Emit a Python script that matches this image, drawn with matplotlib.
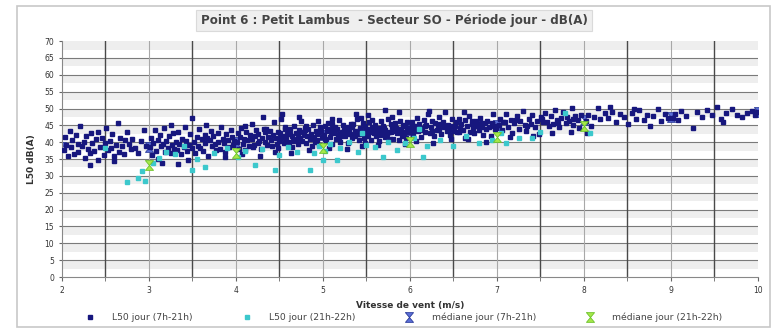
import numpy as np
import matplotlib
matplotlib.use("Agg")
from matplotlib import pyplot as plt
from matplotlib.path import Path
from matplotlib.patches import Rectangle

# L50 (dB(A)) vs wind speed (m/s), day period 7h-21h: (wind, level)
l50_day = [
    (2.02, 37.8), (2.04, 41.6), (2.05, 39.2), (2.07, 35.9), (2.09, 43.4), (2.11, 38.5), (2.12, 40.7), (2.14, 36.6),
    (2.16, 42.2), (2.18, 39.5), (2.19, 37.1), (2.21, 44.8), (2.23, 38.9), (2.25, 40.2), (2.26, 35.4), (2.28, 41.9),
    (2.30, 38.1), (2.32, 36.9), (2.33, 42.7), (2.35, 39.8), (2.37, 37.5), (2.39, 40.9), (2.41, 34.8), (2.42, 43.1),
    (2.44, 38.6), (2.46, 41.2), (2.48, 36.3), (2.50, 39.9), (2.51, 44.2), (2.53, 37.6), (2.55, 40.4), (2.57, 38.3),
    (2.58, 42.5), (2.60, 35.8), (2.62, 39.1), (2.64, 45.6), (2.66, 37.2), (2.67, 41.4), (2.69, 38.8), (2.71, 36.5),
    (2.73, 40.6), (2.75, 42.9), (2.77, 39.4), (2.79, 37.9), (2.81, 41.1), (2.84, 38.4), (2.88, 36.7), (2.91, 40.3),
    (2.94, 43.6), (2.97, 39.0), (2.32, 33.2), (2.60, 34.5),
    (3.01, 38.6), (3.02, 41.3), (3.04, 36.2), (3.05, 39.9), (3.07, 43.5), (3.08, 37.4), (3.10, 40.8), (3.11, 35.1),
    (3.13, 42.0), (3.14, 38.9), (3.16, 39.6), (3.17, 44.1), (3.19, 37.0), (3.20, 40.4), (3.22, 38.2), (3.23, 41.7),
    (3.25, 36.8), (3.26, 39.3), (3.28, 42.6), (3.29, 38.0), (3.31, 40.1), (3.32, 37.7), (3.34, 43.0), (3.35, 39.5),
    (3.37, 36.4), (3.38, 41.0), (3.40, 38.7), (3.41, 44.6), (3.43, 40.5), (3.44, 37.3), (3.46, 39.2), (3.47, 42.3),
    (3.49, 38.4), (3.50, 47.2), (3.52, 40.0), (3.53, 36.9), (3.55, 41.6), (3.56, 39.0), (3.58, 43.8), (3.59, 38.3),
    (3.61, 40.9), (3.62, 37.5), (3.64, 42.2), (3.65, 39.7), (3.67, 41.4), (3.68, 36.0), (3.70, 40.6), (3.71, 43.3),
    (3.73, 38.8), (3.74, 41.9), (3.76, 39.4), (3.77, 37.8), (3.79, 42.8), (3.80, 40.2), (3.82, 38.1), (3.83, 44.4),
    (3.85, 41.1), (3.86, 39.8), (3.88, 37.1), (3.89, 42.5), (3.91, 40.7), (3.92, 38.5), (3.94, 43.7), (3.95, 41.5),
    (3.97, 39.1), (3.98, 40.3), (3.15, 33.9), (3.45, 34.6), (3.66, 45.1), (3.87, 35.5), (3.33, 33.6), (3.25, 45.2),
    (4.01, 40.2), (4.02, 42.8), (4.04, 38.1), (4.05, 41.5), (4.06, 44.3), (4.08, 39.4), (4.09, 41.0), (4.11, 37.6),
    (4.12, 43.1), (4.13, 40.6), (4.15, 39.0), (4.16, 42.2), (4.18, 45.4), (4.19, 40.9), (4.20, 38.5), (4.22, 41.8),
    (4.23, 43.7), (4.25, 39.8), (4.26, 42.4), (4.27, 40.3), (4.29, 37.9), (4.30, 41.2), (4.32, 44.0), (4.33, 40.0),
    (4.34, 42.9), (4.36, 39.2), (4.37, 41.6), (4.39, 43.4), (4.40, 40.7), (4.41, 38.8), (4.43, 42.0), (4.44, 45.9),
    (4.46, 41.3), (4.47, 39.6), (4.48, 43.0), (4.50, 40.4), (4.51, 42.6), (4.53, 48.3), (4.54, 41.9), (4.55, 39.9),
    (4.57, 44.5), (4.58, 41.1), (4.60, 43.3), (4.61, 40.1), (4.62, 42.3), (4.64, 38.6), (4.65, 41.7), (4.67, 44.8),
    (4.68, 40.8), (4.69, 42.7), (4.71, 39.5), (4.72, 43.6), (4.74, 41.4), (4.75, 46.2), (4.76, 40.5), (4.78, 42.1),
    (4.79, 44.2), (4.81, 39.7), (4.82, 41.8), (4.83, 43.9), (4.85, 40.9), (4.86, 42.5), (4.88, 38.9), (4.89, 45.1),
    (4.90, 41.2), (4.92, 43.2), (4.93, 40.6), (4.95, 42.9), (4.96, 39.3), (4.97, 44.6), (4.99, 41.6), (4.07, 36.4),
    (4.28, 35.8), (4.45, 37.2), (4.52, 46.8), (4.63, 36.9), (4.73, 47.5), (4.84, 37.6), (4.94, 46.4), (4.31, 47.5),
    (4.10, 44.9), (4.21, 39.1), (4.35, 43.8), (4.49, 38.2), (4.59, 42.4), (4.70, 41.0), (4.80, 43.5), (4.91, 40.0),
    (4.52, 41.2), (4.56, 43.9), (4.66, 40.3), (4.77, 42.9), (4.87, 41.5), (4.98, 43.3), (4.62, 44.0), (4.71, 42.4),
    (4.81, 44.7), (4.93, 42.3),
    (5.01, 42.1), (5.02, 44.7), (5.04, 40.3), (5.05, 43.4), (5.06, 45.8), (5.08, 41.5), (5.09, 43.0), (5.11, 39.6),
    (5.12, 44.2), (5.13, 42.6), (5.15, 40.9), (5.16, 43.8), (5.18, 46.5), (5.19, 42.3), (5.20, 40.0), (5.22, 43.1),
    (5.23, 45.2), (5.25, 41.8), (5.26, 44.0), (5.27, 42.8), (5.29, 39.9), (5.30, 43.5), (5.32, 45.5), (5.33, 41.2),
    (5.34, 44.4), (5.36, 42.0), (5.37, 43.2), (5.39, 46.9), (5.40, 42.5), (5.41, 40.6), (5.43, 44.1), (5.44, 47.3),
    (5.46, 43.0), (5.47, 41.4), (5.48, 44.8), (5.50, 42.2), (5.51, 43.9), (5.53, 45.9), (5.54, 42.9), (5.55, 40.8),
    (5.57, 44.5), (5.58, 43.3), (5.60, 45.1), (5.61, 41.9), (5.62, 43.6), (5.64, 40.4), (5.65, 44.3), (5.67, 46.2),
    (5.68, 42.7), (5.69, 44.9), (5.71, 41.6), (5.72, 43.7), (5.74, 42.4), (5.75, 47.0), (5.76, 43.1), (5.78, 45.4),
    (5.79, 44.6), (5.81, 41.0), (5.82, 43.4), (5.83, 45.7), (5.85, 42.6), (5.86, 44.0), (5.88, 40.7), (5.89, 46.4),
    (5.90, 43.8), (5.92, 45.0), (5.93, 42.1), (5.95, 44.7), (5.96, 41.3), (5.97, 46.0), (5.99, 43.5), (5.07, 38.4),
    (5.28, 37.9), (5.45, 38.8), (5.52, 48.1), (5.63, 39.2), (5.71, 49.6), (5.88, 49.0), (5.94, 39.5), (5.38, 48.4),
    (5.10, 46.8), (5.21, 41.7), (5.35, 45.3), (5.49, 39.8), (5.59, 42.8), (5.70, 44.2), (5.80, 47.6), (5.91, 41.8),
    (5.14, 44.5), (5.24, 43.7), (5.42, 42.3), (5.56, 46.6), (5.66, 42.0), (5.77, 40.9), (5.84, 44.1), (5.98, 42.9),
    (5.03, 41.0), (5.17, 42.0), (5.31, 42.4), (5.43, 43.6), (5.52, 41.7), (5.63, 43.0), (5.73, 42.2), (5.86, 42.9),
    (5.97, 44.3), (5.06, 43.9), (5.18, 41.2), (5.29, 44.5), (5.37, 41.9), (5.46, 45.6), (5.58, 44.2), (5.67, 43.7),
    (5.78, 43.0), (5.92, 43.1), (5.11, 45.3), (5.26, 42.5), (5.48, 43.4), (5.61, 42.6), (5.82, 44.4),
    (6.01, 43.9), (6.03, 46.1), (6.04, 42.0), (6.06, 44.8), (6.08, 47.2), (6.09, 43.3), (6.11, 45.4), (6.13, 41.6),
    (6.14, 44.2), (6.16, 46.7), (6.18, 43.0), (6.19, 45.0), (6.21, 48.3), (6.23, 42.7), (6.24, 44.6), (6.26, 46.3),
    (6.28, 41.9), (6.29, 45.7), (6.31, 43.6), (6.33, 47.6), (6.34, 44.0), (6.36, 42.4), (6.38, 46.0), (6.39, 44.4),
    (6.41, 48.9), (6.43, 43.2), (6.44, 45.2), (6.46, 42.1), (6.48, 46.8), (6.49, 44.7), (6.51, 43.4), (6.53, 45.9),
    (6.54, 42.9), (6.56, 47.0), (6.58, 44.1), (6.59, 45.5), (6.61, 43.7), (6.63, 46.5), (6.64, 41.3), (6.66, 44.9),
    (6.68, 47.9), (6.69, 43.1), (6.71, 45.3), (6.73, 44.3), (6.74, 42.6), (6.76, 46.2), (6.78, 45.0), (6.79, 43.5),
    (6.81, 47.3), (6.83, 44.5), (6.84, 42.2), (6.86, 45.8), (6.88, 43.9), (6.89, 46.4), (6.91, 44.6), (6.93, 41.8),
    (6.94, 45.6), (6.96, 48.5), (6.98, 43.8), (6.99, 44.2), (6.07, 40.5), (6.27, 39.8), (6.47, 40.9), (6.67, 41.0),
    (6.87, 40.2), (6.22, 49.4), (6.62, 49.1),
    (6.02, 45.0), (6.12, 43.5), (6.17, 44.9), (6.25, 43.3), (6.32, 45.1), (6.42, 44.8), (6.52, 44.9), (6.57, 43.0),
    (6.71, 46.4), (6.82, 45.6), (6.97, 44.7), (6.05, 43.5), (6.35, 45.4), (6.45, 43.6), (6.75, 44.9),
    (7.02, 45.2), (7.04, 47.0), (7.06, 43.6), (7.09, 46.1), (7.11, 48.4), (7.13, 44.5), (7.16, 46.6), (7.18, 42.8),
    (7.20, 45.7), (7.23, 47.9), (7.25, 44.0), (7.27, 46.3), (7.30, 49.2), (7.32, 45.1), (7.34, 43.2), (7.37, 46.9),
    (7.39, 45.5), (7.41, 48.0), (7.44, 44.4), (7.46, 46.2), (7.48, 42.4), (7.51, 47.4), (7.53, 45.9), (7.55, 48.7),
    (7.58, 46.0), (7.60, 44.8), (7.62, 47.7), (7.65, 45.3), (7.67, 49.5), (7.69, 46.5), (7.72, 44.6), (7.74, 47.1),
    (7.76, 48.9), (7.79, 45.8), (7.81, 47.5), (7.83, 46.4), (7.86, 50.1), (7.88, 45.0), (7.90, 47.8), (7.93, 46.7),
    (7.95, 44.2), (7.97, 48.2), (7.15, 41.6), (7.42, 41.9), (7.63, 42.6), (7.85, 43.1),
    (7.07, 45.9), (7.22, 46.5), (7.35, 44.9), (7.52, 46.8), (7.70, 45.6), (7.88, 46.9),
    (8.02, 46.3), (8.05, 48.1), (8.08, 44.7), (8.12, 47.4), (8.16, 50.3), (8.19, 46.9), (8.24, 48.6), (8.28, 47.2),
    (8.33, 49.1), (8.37, 46.0), (8.42, 48.3), (8.46, 47.6), (8.51, 45.4), (8.55, 48.8), (8.60, 47.0), (8.64, 49.5),
    (8.69, 46.6), (8.73, 48.0), (8.76, 44.9), (8.80, 47.7), (8.85, 49.9), (8.89, 46.4), (8.93, 48.5), (8.97, 47.3),
    (8.04, 42.8), (8.30, 50.6), (8.58, 50.0),
    (9.02, 47.1), (9.05, 48.4), (9.08, 46.5), (9.12, 49.3), (9.18, 47.8), (9.25, 44.2), (9.30, 48.9), (9.36, 47.4),
    (9.42, 49.6), (9.47, 48.1), (9.53, 50.4), (9.58, 47.0), (9.64, 48.7), (9.70, 49.8), (9.76, 48.2), (9.82, 47.6),
    (9.88, 48.8), (9.93, 49.4), (9.97, 48.0), (9.99, 49.0), (9.60, 45.9),
]

# evening hour 21h-22h
l50_evening = [
    (2.75, 28.2), (2.87, 29.4), (2.96, 28.5), (2.92, 31.5), (3.05, 33.8), (3.12, 35.2), (3.20, 37.0), (3.30, 36.4),
    (3.49, 31.8), (3.64, 32.6), (3.55, 35.0), (3.75, 36.8), (3.90, 38.2), (4.02, 35.6), (4.10, 37.4), (4.22, 33.2),
    (4.30, 38.0), (4.45, 31.8), (4.50, 36.2), (4.60, 38.6), (4.70, 37.0), (4.85, 31.8), (4.90, 36.8), (4.95, 38.9),
    (5.00, 34.7), (5.03, 37.5), (5.08, 39.6), (5.16, 34.7), (5.20, 38.2), (5.30, 40.1), (5.40, 37.0), (5.50, 39.3),
    (5.69, 35.6), (5.60, 38.5), (5.75, 40.0), (5.85, 37.8), (5.95, 39.9), (6.05, 41.2), (6.15, 35.6), (6.20, 39.0),
    (6.35, 40.6), (6.50, 38.8), (6.65, 41.8), (6.80, 39.7), (6.95, 40.8), (7.05, 42.6), (7.10, 39.9), (7.25, 41.4),
    (7.41, 41.2), (7.50, 43.0), (7.78, 48.6), (8.07, 42.7), (3.40, 38.9), (2.50, 38.3), (6.10, 44.0), (5.45, 42.6),
]

median_day_wind = [2, 3, 4, 5, 6, 7, 8, 9, 10]
median_day_l50 = [38.5, 38.5, 40.0, 42.0, 43.5, 45.0, 46.5, 47.5, 49.0]
median_evening_wind = [3, 4, 5, 6, 7, 8]
median_evening_l50 = [33.2, 36.8, 38.3, 40.0, 41.5, 44.8]

# hourglass marker used for the medians
hourglass = Path([(-1, 1.2), (1, 1.2), (-1, -1.2), (1, -1.2), (-1, 1.2)])

fig = plt.figure(figsize=(7.74, 3.29), dpi=100)
fig.patches.append(Rectangle((0.022, 0.006), 0.973, 0.976, transform=fig.transFigure,
                             facecolor='white', edgecolor='#c8c8c8', linewidth=1.2, zorder=-10))

ax = fig.add_axes([0.080, 0.158, 0.899, 0.717])
ax.set_xlim(2, 10)
ax.set_ylim(0, 70)

# light banding between the horizontal grid lines
for y0 in range(0, 70, 5):
    ax.axhspan(y0 + 2.5, y0 + 5, color='#eeeeee', lw=0, zorder=0)
for y0 in range(5, 70, 5):
    ax.axhline(y0, color='#7a7a7a', lw=0.8, zorder=1)
for x0 in np.arange(2.5, 10, 1.0):
    ax.axvline(x0, color='#4a4a4a', lw=1.0, zorder=1)
for x0 in range(3, 10):
    ax.axvline(x0, color='#a8a8a8', lw=0.8, zorder=1)

day = np.array(l50_day)
eve = np.array(l50_evening)

ax.plot(median_day_wind, median_day_l50, linestyle='none', marker=hourglass, markersize=7,
        markerfacecolor='#5b6fd8', markeredgecolor='#2a3a9a', markeredgewidth=0.6, zorder=2,
        label='médiane jour (7h-21h)')
ax.plot(day[:, 0], day[:, 1], linestyle='none', marker='s', markersize=2.6,
        color='#17177e', zorder=3, label='L50 jour (7h-21h)')
ax.plot(eve[:, 0], eve[:, 1], linestyle='none', marker='s', markersize=2.4,
        color='#3cc8cc', zorder=4, label='L50 jour (21h-22h)')
ax.plot(median_evening_wind, median_evening_l50, linestyle='none', marker=hourglass, markersize=7,
        markerfacecolor='#a6e84a', markeredgecolor='#6cc22a', markeredgewidth=0.6, zorder=5,
        label='médiane jour (21h-22h)')

ax.set_xticks(range(2, 11))
ax.set_xticks(np.arange(2.5, 10, 1.0), minor=True)
ax.set_yticks(range(0, 71, 5))
ax.tick_params(axis='both', labelsize=5.5, labelcolor='#333333', color='#666666', length=3)
ax.tick_params(axis='x', which='minor', length=3, color='#666666')
ax.tick_params(axis='y', length=2)
for side in ['top', 'right']:
    ax.spines[side].set_visible(False)
ax.spines['left'].set_color('#888888')
ax.spines['bottom'].set_color('#888888')

ax.set_xlabel('Vitesse de vent (m/s)', fontsize=6.5, fontweight='bold', color='#333333', labelpad=4)
ax.set_ylabel('L50 dB(A)', fontsize=6.5, fontweight='bold', color='#333333', labelpad=6)

fig.text(0.509, 0.938, 'Point 6 : Petit Lambus  - Secteur SO - Période jour - dB(A)',
         ha='center', va='center', fontsize=8.6, fontweight='bold', color='#444444',
         bbox=dict(boxstyle='square,pad=0.35', facecolor='#efefef', edgecolor='#dadada', linewidth=0.8))

handles, labels = ax.get_legend_handles_labels()
order = [1, 2, 0, 3]
fig.legend([handles[i] for i in order], [labels[i] for i in order], loc='center',
           bbox_to_anchor=(0.52, 0.035), ncol=4, frameon=False, fontsize=6.7,
           handletextpad=1.6, handlelength=1.6, columnspacing=5.0, labelcolor='#444444')

fig.savefig('out.png', dpi=100)
